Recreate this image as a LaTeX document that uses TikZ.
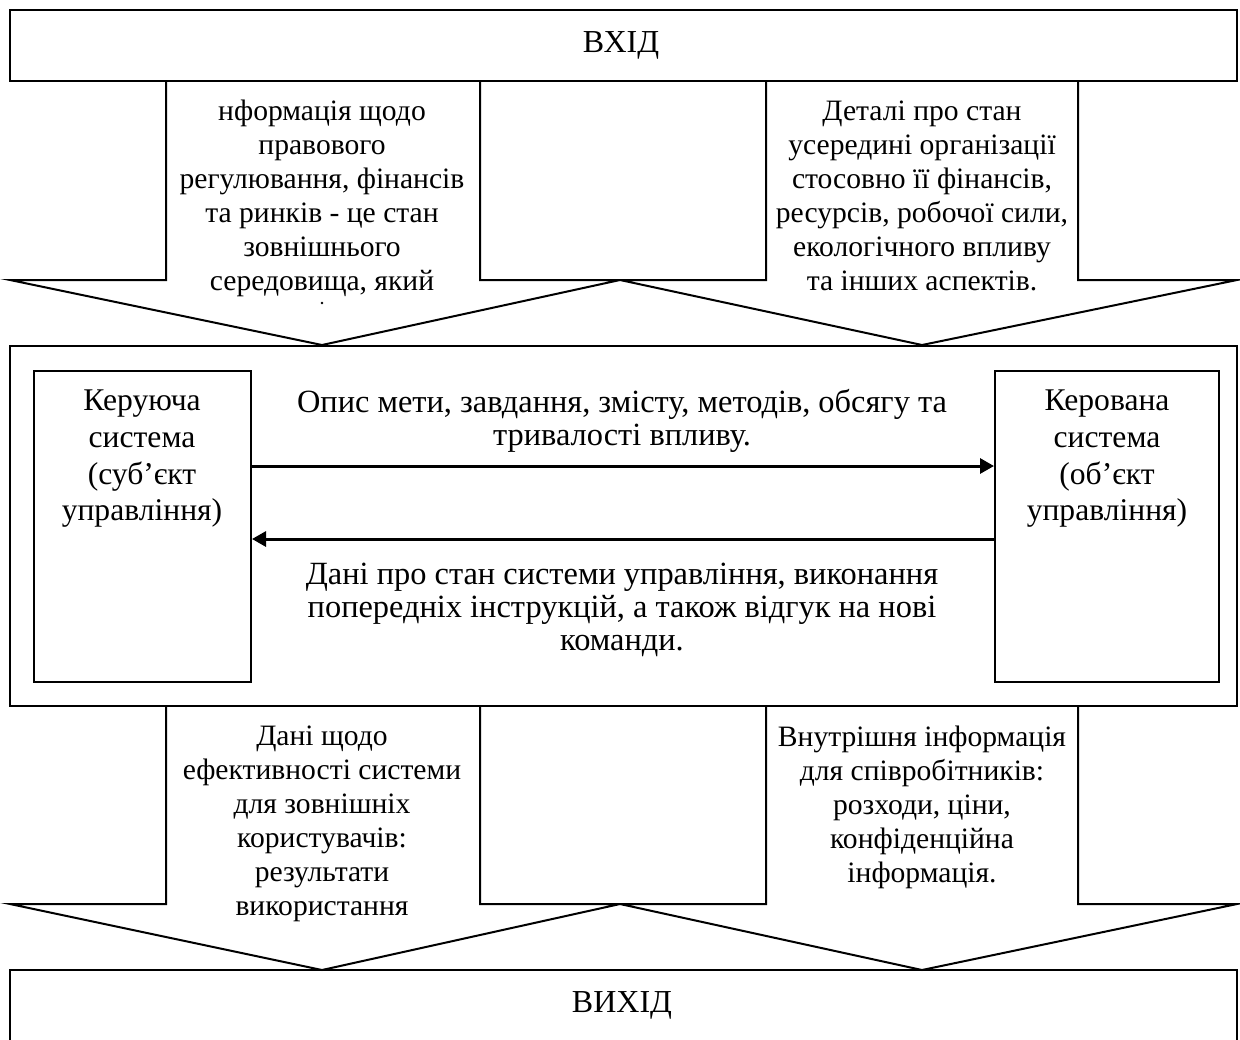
\documentclass[tikz,border=0pt]{standalone}
\usepackage{fontspec}
\setmainfont{Liberation Serif}
\usetikzlibrary{arrows.meta,fit}
\begin{document}
\begin{tikzpicture}[x=0.5pt,y=-0.5pt,
  box/.style={draw, line width=1pt, inner sep=0pt},
  blk/.style={draw, line width=1pt, line join=miter},
  txt/.style={align=center, inner sep=0pt, font=\fontsize{14.8}{17}\selectfont,
    execute at begin node=\strut, execute at end node=\strut},
  lbl/.style={inner sep=0pt, font=\fontsize{16}{18}\selectfont},
  conn/.style={line width=1.5pt, -{Triangle[length=7pt,width=7.5pt]}}]
\fill[white] (0,0) rectangle (1240,1039);
\useasboundingbox (0,0) rectangle (1240,1039);
% block arrows (input)
\draw[blk] (166,81) -- (166,280) -- (10,280) -- (322,345) -- (620,280) -- (480,280) -- (480,81);
\draw[blk] (766,81) -- (766,280) -- (620,280) -- (922,345) -- (1237,280) -- (1078,280) -- (1078,81);
% block arrows (output)
\draw[blk] (166,706) -- (166,904) -- (10,904) -- (322,970) -- (620,904) -- (480,904) -- (480,706);
\draw[blk] (766,706) -- (766,904) -- (620,904) -- (922,970) -- (1237,904) -- (1078,904) -- (1078,706);
% boxes
\node[box, fit={(10,10)(1237,81)}] (inbox) {};
\node[box, fit={(10,346)(1237,706)}] (sys) {};
\node[box, fit={(34,371)(251,682)}] (ctrl) {};
\node[box, fit={(995,371)(1219,682)}] (obj) {};
\draw[line width=1pt] (10,1045) -- (10,970) -- (1237,970) -- (1237,1045);
% labels
\node[lbl, anchor=base] (inlbl) at (621,52) {ВХІД};
\node[lbl, anchor=base] (outlbl) at (622,1012) {ВИХІД};
\node[txt] (t1) at (322,200) {нформація щодо\\правового\\регулювання, фінансів\\та ринків - це стан\\зовнішнього\\середовища, який};
\node[circle, fill, inner sep=0pt, minimum size=1.4pt] (dot) at (322,303) {};
\node[txt] (t2) at (922,201) {Деталі про стан\\усередині організації\\стосовно її фінансів,\\ресурсів, робочої сили,\\екологічного впливу\\та інших аспектів.};
\node[txt] (t3) at (322,826) {Дані щодо\\ефективності системи\\для зовнішніх\\користувачів:\\результати\\використання};
\node[txt] (t4) at (922,809) {Внутрішня інформація\\для співробітників:\\розходи, ціни,\\конфіденційна\\інформація.};
\node[txt, font=\fontsize{15.8}{18.3}\selectfont] (ctxt) at (142,461) {Керуюча\\система\\(суб’єкт\\управління)};
\node[txt, font=\fontsize{15.8}{18.3}\selectfont] (otxt) at (1107,461) {Керована\\система\\(об’єкт\\управління)};
\node[txt, font=\fontsize{16.2}{16.6}\selectfont] (m1) at (622,422) {Опис мети, завдання, змісту, методів, обсягу та\\тривалості впливу.};
\node[txt, font=\fontsize{16.2}{16.6}\selectfont] (m2) at (622,612) {Дані про стан системи управління, виконання\\попередніх інструкцій, а також відгук на нові\\команди.};
% connectors
\coordinate (y1) at (0,466);
\coordinate (y2) at (0,539);
\draw[conn] (ctrl.east |- y1) -- (obj.west |- y1);
\draw[conn] (obj.west |- y2) -- (ctrl.east |- y2);
\end{tikzpicture}
\end{document}
